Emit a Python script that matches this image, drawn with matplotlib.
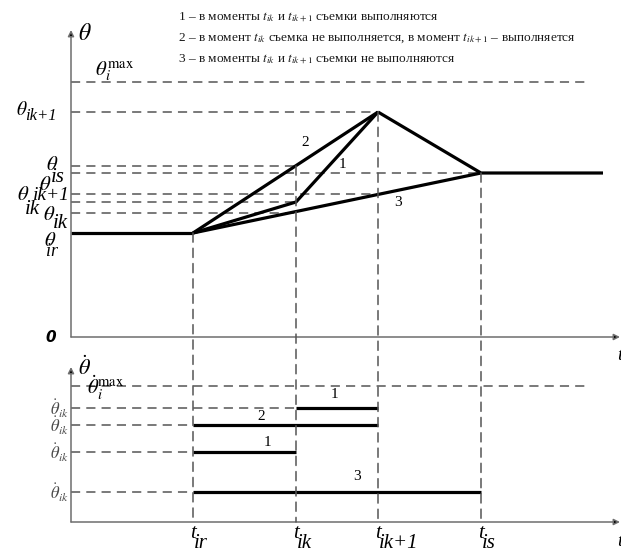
import matplotlib
matplotlib.use("Agg")
import matplotlib.pyplot as plt
from matplotlib.patches import ConnectionPatch

plt.rcParams['font.family'] = ['Liberation Serif', 'DejaVu Serif']
plt.rcParams['mathtext.fontset'] = 'stix'

# time moments (arbitrary units along the t axis)
t_ir, t_ik, t_ik1, t_is = 12.2, 22.5, 30.7, 41.0
t_end, t_line_end, t_dash_end = 54.9, 53.2, 51.7

# upper plot: angle theta
th_ir = 10.4
th_ik_3 = 12.4       # curve 3 at t_ik
th_ik_1 = 13.5       # curve 1 at t_ik
th_ik1_3 = 14.3      # curve 3 at t_ik+1
th_is = 16.4
th_ik_2 = 17.1       # curve 2 at t_ik
th_peak = 22.5       # theta_ik+1
th_max = 25.5
th_top = 30.7

curve1_t = [t_ir, t_ik, t_ik1]
curve1_th = [th_ir, th_ik_1, th_peak]
curve2_t = [t_ir, t_ik1]
curve2_th = [th_ir, th_peak]
curve3_t = [t_ir, t_is]
curve3_th = [th_ir, th_is]
base_t = [0, t_ir]
base_th = [th_ir, th_ir]
tail_t = [t_ik1, t_is, t_line_end]
tail_th = [th_peak, th_is, th_is]

# lower plot: angular rate
w_max = 13.6
w_1b = 11.4
w_2 = 9.7
w_1a = 7.0
w_3 = 3.0
w_top = 15.5

legend_lines = [
    '1 – в моменты $t_{ik}$ и $t_{ik+1}$ съемки выполняются',
    '2 – в момент $t_{ik}$ съемка не выполняется, в момент $t_{ik+1}$ – выполняется',
    '3 – в моменты $t_{ik}$ и $t_{ik+1}$ съемки не выполняются',
]

W, H = 621, 552
fig = plt.figure(figsize=(W / 100, H / 100), dpi=100)

x0, x1 = 71, 620
ax1 = fig.add_axes([x0 / W, (H - 337) / H, (x1 - x0) / W, (337 - 30) / H])
ax2 = fig.add_axes([x0 / W, (H - 522) / H, (x1 - x0) / W, (522 - 367) / H])
ax1.set_xlim(0, t_end)
ax1.set_ylim(0, th_top)
ax2.set_xlim(0, t_end)
ax2.set_ylim(0, w_top)

axis_col = '#6e6e6e'
dash_col = '#555555'
dash = (0, (6, 4))
thick = 2.3

for ax, top in ((ax1, th_top), (ax2, w_top)):
    ax.set_axis_off()
    for tip in ((0, top), (t_end, 0)):
        ax.annotate('', xy=tip, xytext=(0, 0), xycoords='data',
                    arrowprops=dict(arrowstyle='-|>', lw=1.1,
                                    mutation_scale=9, shrinkA=0, shrinkB=0,
                                    ec=axis_col, fc='black'),
                    annotation_clip=False)

# horizontal dashed guides (upper)
ax1.hlines(th_max, 0, t_dash_end, colors=dash_col, linestyles=dash, lw=1.1)
ax1.hlines(th_peak, 0, t_ik1, colors=dash_col, linestyles=dash, lw=1.1)
ax1.hlines(th_ik_2, 0, t_ik, colors=dash_col, linestyles=dash, lw=1.1)
ax1.hlines(th_is, 0, t_is, colors=dash_col, linestyles=dash, lw=1.1)
ax1.hlines(th_ik1_3, 0, t_ik1, colors=dash_col, linestyles=dash, lw=1.1)
ax1.hlines(th_ik_1, 0, t_ik, colors=dash_col, linestyles=dash, lw=1.1)
ax1.hlines(th_ik_3, 0, t_ik, colors=dash_col, linestyles=dash, lw=1.1)

# vertical dashed guides spanning both plots
for t, th in ((t_ir, th_ir), (t_ik, th_ik_2), (t_ik1, th_peak), (t_is, th_is)):
    con = ConnectionPatch(xyA=(t, th), coordsA=ax1.transData,
                          xyB=(t, 0), coordsB=ax2.transData,
                          color=dash_col, lw=1.1, linestyle=dash)
    fig.add_artist(con)

# curves
for tt, yy in ((base_t, base_th), (curve1_t, curve1_th), (curve2_t, curve2_th),
               (curve3_t, curve3_th), (tail_t, tail_th)):
    ax1.plot(tt, yy, color='black', lw=thick, solid_capstyle='butt', clip_on=False)

ax1.text(23.4, 19.4, '2', fontsize=11, ha='center', va='center')
ax1.text(27.1, 17.2, '1', fontsize=11, ha='center', va='center')
ax1.text(32.7, 13.4, '3', fontsize=11, ha='center', va='center')

# lower plot guides and segments
ax2.hlines(w_max, 0, t_dash_end, colors=dash_col, linestyles=dash, lw=1.1)
ax2.hlines(w_1b, 0, t_ik, colors=dash_col, linestyles=dash, lw=1.1)
for w in (w_2, w_1a, w_3):
    ax2.hlines(w, 0, t_ir, colors=dash_col, linestyles=dash, lw=1.1)
ax2.hlines(w_1b, t_ik, t_ik1, colors='black', lw=thick)
ax2.hlines(w_2, t_ir, t_ik1, colors='black', lw=thick)
ax2.hlines(w_1a, t_ir, t_ik, colors='black', lw=thick)
ax2.hlines(w_3, t_ir, t_is, colors='black', lw=thick)

ax2.text(26.3, 12.7, '1', fontsize=11, ha='center', va='center')
ax2.text(19.0, 10.5, '2', fontsize=11, ha='center', va='center')
ax2.text(19.6, 8.0, '1', fontsize=11, ha='center', va='center')
ax2.text(28.6, 4.5, '3', fontsize=11, ha='center', va='center')

# axis labels, upper
ax1.text(0.7, th_top - 0.4, r'$\theta$', fontsize=17, ha='left', va='center')
ax1.text(2.4, th_max + 1.1, r'$\theta_i^{\mathrm{max}}$', fontsize=15, ha='left', va='center')
ax1.text(-5.5, th_peak + 0.2, r'$\theta$', fontsize=14, ha='left', va='center')
ax1.text(-4.6, th_peak - 0.4, 'ik+1', fontsize=12, ha='left', va='center', style='italic')
ax1.text(-1.3, th_ik_2 + 0.1, r'$\theta$', fontsize=15, ha='right', va='center')
ax1.text(-0.6, th_ik_2 - 1.1, 'is', fontsize=15, ha='right', va='center', style='italic')
ax1.text(-2.0, th_is - 1.2, r'$\theta$', fontsize=15, ha='right', va='center')
ax1.text(-0.1, th_ik1_3 - 0.1, 'ik+1', fontsize=14, ha='right', va='center', style='italic')
ax1.text(-5.4, th_ik1_3 - 0.1, r'$\theta$', fontsize=15, ha='left', va='center')
ax1.text(-4.6, th_ik_1 - 0.8, 'ik', fontsize=15, ha='left', va='center', style='italic')
ax1.text(-1.6, th_ik_3 - 0.2, r'$\theta$', fontsize=15, ha='right', va='center')
ax1.text(-1.8, th_ik_3 - 1.1, 'ik', fontsize=15, ha='left', va='center', style='italic')
ax1.text(-1.5, th_ir - 0.9, r'$\theta$', fontsize=15, ha='right', va='center')
ax1.text(-1.3, th_ir - 1.9, 'ir', fontsize=13, ha='right', va='center', style='italic')
ax1.text(-1.5, 0, '0', fontsize=11, ha='right', va='center', fontweight='bold',
         style='italic', family='DejaVu Sans')
ax1.text(t_end, -1.8, 't', fontsize=14, ha='center', va='center', style='italic')

# axis labels, lower
ax2.text(0.7, w_top - 0.1, r'$\dot{\theta}$', fontsize=16, ha='left', va='center')
ax2.text(1.6, w_max - 0.2, r'$\dot{\theta}_i^{\mathrm{max}}$', fontsize=15, ha='left', va='center')
for w in (w_1b, w_2, w_1a, w_3):
    ax2.text(-0.2, w - 0.1, r'$\dot{\theta}_{ik}$', fontsize=12, ha='right', va='center',
             color='#4a4a4a')
ax2.text(t_end, -1.9, 't', fontsize=14, ha='center', va='center', style='italic')

# t tick labels
for t, sub in ((t_ir, 'ir'), (t_ik, 'ik'), (t_ik1, 'ik+1'), (t_is, 'is')):
    ax2.text(t, -1.1, 't', fontsize=15, ha='center', va='center', style='italic')
    ax2.text(t + 0.1, -2.2, sub, fontsize=15, ha='left', va='center', style='italic')

# legend text at top
for i, s in enumerate(legend_lines):
    fig.text(178 / W, 1 - (17 + 21 * i) / H, s, fontsize=9.6, ha='left', va='center',
             color='#1a1a1a')

fig.savefig('out.png', dpi=100)
